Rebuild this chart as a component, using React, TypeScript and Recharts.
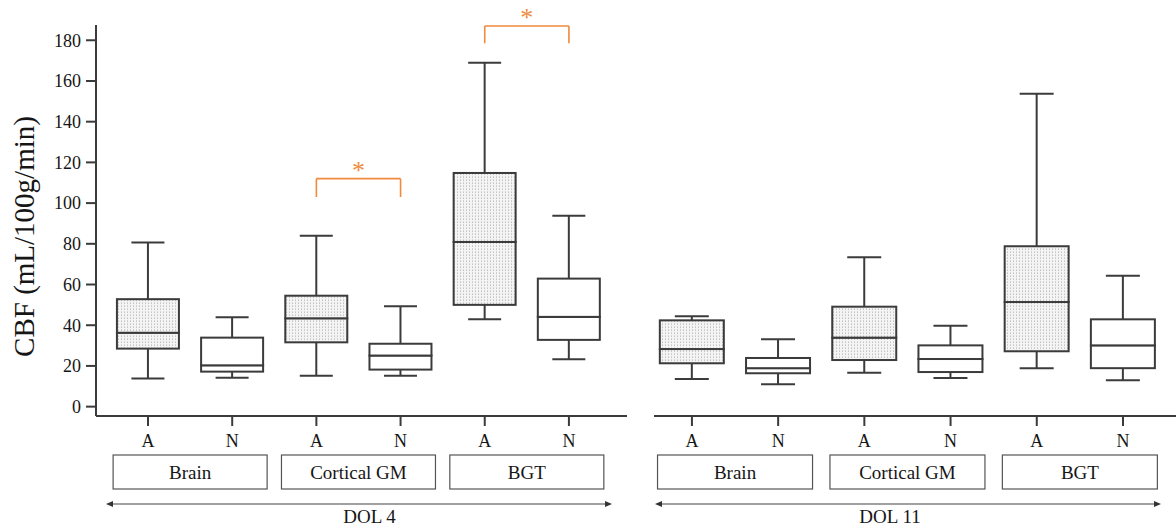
import React from "react";
import { ComposedChart, Bar, Line, XAxis, YAxis, ReferenceLine } from "recharts";

const regions = ["Brain", "Cortical GM", "BGT"];
const cohorts = ["A", "N", "A", "N", "A", "N"];
const positions = [0, 1, 2, 3, 4, 5];
const regionCenters = [0.5, 2.5, 4.5];
const yTicks = [0, 10, 20, 30, 40, 50, 60, 70, 80, 90, 100, 110, 120, 130, 140, 150, 160, 170, 180];

// DOL 4 boxes (min, Q1, median, Q3, max)
const dol4Min = [13.8, 14.2, 15.2, 15.2, 42.9, 23.3];
const dol4Q1 = [28.5, 17.2, 31.6, 18.2, 50.0, 32.8];
const dol4Median = [36.3, 20.3, 43.4, 25.1, 80.9, 44.1];
const dol4Q3 = [52.8, 33.9, 54.5, 30.9, 114.8, 62.9];
const dol4Max = [80.7, 43.9, 84.0, 49.3, 169.0, 93.8];

// DOL 11 boxes
const dol11Min = [13.6, 11.0, 16.6, 14.1, 18.9, 13.0];
const dol11Q1 = [21.3, 16.4, 22.9, 17.0, 27.2, 18.9];
const dol11Median = [28.3, 18.9, 33.9, 23.4, 51.4, 30.1];
const dol11Q3 = [42.4, 23.9, 49.1, 30.1, 78.8, 42.9];
const dol11Max = [44.4, 33.1, 73.4, 39.8, 153.7, 64.3];

// significance brackets (DOL 4)
const sigFrom = [2, 4];
const sigTo = [3, 5];
const sigTop = [112, 187];
const sigLeg = [103, 178.5];

const INK = "#3b3b3b";
const TEXT = "#161616";
const ORANGE = "#f08a3c";
const FONT = '"Liberation Serif", "Times New Roman", serif';

const buildRows = (mn: number[], q1: number[], md: number[], q3: number[], mx: number[]) =>
  positions.map((p, i) => ({
    pos: p,
    cohort: cohorts[i],
    base: mn[i],
    lowW: q1[i] - mn[i],
    lowBox: md[i] - q1[i],
    highBox: q3[i] - md[i],
    highW: mx[i] - q3[i],
  }));

const boxShape = (props: any) => {
  const { x, y, width, height, payload } = props;
  return (
    <rect
      x={x}
      y={y}
      width={width}
      height={height}
      fill={payload.cohort === "A" ? "url(#dots)" : "#fff"}
      stroke={INK}
      strokeWidth={2}
    />
  );
};

const whiskerShape = (cap: number, atTop: boolean) => (props: any) => {
  const { x, y, width, height } = props;
  const cx = x + width / 2;
  const end = atTop ? y : y + height;
  return (
    <g>
      <line x1={cx} x2={cx} y1={y} y2={y + height} stroke={INK} strokeWidth={2} />
      <line x1={cx - cap / 2} x2={cx + cap / 2} y1={end} y2={end} stroke={INK} strokeWidth={2} />
    </g>
  );
};

const YTick = ({ x, y, payload }: any) => {
  const major = payload.value % 20 === 0;
  return (
    <g>
      <line x1={x + (major ? 5 : 9)} x2={x + 15} y1={y} y2={y} stroke={INK} strokeWidth={2} />
      {major && (
        <text x={x} y={y} dy="0.35em" textAnchor="end" fill={TEXT} style={{ fontSize: 18, fontFamily: FONT }}>
          {payload.value}
        </text>
      )}
    </g>
  );
};

const CohortTick = ({ x, y, payload }: any) => (
  <text x={x} y={y} dy="0.71em" textAnchor="middle" fill={TEXT} style={{ fontSize: 18, fontFamily: FONT }}>
    {cohorts[positions.indexOf(payload.value)]}
  </text>
);

const RegionTick = ({ x, y, index, boxW }: any) => (
  <g>
    <rect x={x - boxW / 2} y={y + 9} width={boxW} height={34} fill="#fff" stroke="#555" strokeWidth={1.2} />
    <text x={x} y={y + 26} dy="0.35em" textAnchor="middle" fill={TEXT} style={{ fontSize: 19, fontFamily: FONT }}>
      {regions[index]}
    </text>
  </g>
);

const DolLabel = ({ viewBox, text, startInset, endInset, textShift }: any) => {
  const { x, y, width } = viewBox;
  const x1 = x + startInset;
  const x2 = x + width - endInset;
  const ay = y + 58;
  return (
    <g>
      <line x1={x1 + 5} x2={x2 - 5} y1={ay} y2={ay} stroke="#444" strokeWidth={1.2} />
      <polygon points={`${x1},${ay} ${x1 + 7},${ay - 3} ${x1 + 7},${ay + 3}`} fill="#333" />
      <polygon points={`${x2},${ay} ${x2 - 7},${ay - 3} ${x2 - 7},${ay + 3}`} fill="#333" />
      <text x={x + width / 2 + textShift} y={y + 77} textAnchor="middle" fill={TEXT} style={{ fontSize: 19, fontFamily: FONT }}>
        {text}
      </text>
    </g>
  );
};

const Panel = ({ rows, width, left, marginLeft, marginRight, showY, xDomain, boxW, cap, groupW, dol, startInset, endInset, textShift, brackets }: any) => (
  <div style={{ position: "absolute", left, top: 0 }}>
    <ComposedChart
      width={width}
      height={528}
      data={rows}
      margin={{ top: 25, right: marginRight, bottom: 0, left: marginLeft }}
    >
      <XAxis
        dataKey="pos"
        type="number"
        domain={xDomain}
        ticks={positions}
        allowDataOverflow
        height={30}
        tickSize={10}
        tickMargin={8}
        axisLine={{ stroke: INK, strokeWidth: 2 }}
        tickLine={{ stroke: INK, strokeWidth: 2 }}
        tick={(p: any) => <CohortTick {...p} />}
      />
      <XAxis
        xAxisId="region"
        dataKey="pos"
        type="number"
        domain={xDomain}
        ticks={regionCenters}
        allowDataOverflow
        height={82}
        tickSize={0}
        tickMargin={0}
        axisLine={false}
        tickLine={false}
        tick={(p: any) => <RegionTick {...p} boxW={groupW} />}
        label={(p: any) => (
          <DolLabel viewBox={p.viewBox} text={dol} startInset={startInset} endInset={endInset} textShift={textShift} />
        )}
      />
      <YAxis
        type="number"
        domain={[-4.6, 187.5]}
        ticks={yTicks}
        allowDataOverflow
        hide={!showY}
        width={96}
        tickSize={10}
        tickMargin={5}
        tickLine={false}
        axisLine={{ stroke: INK, strokeWidth: 2 }}
        tick={(p: any) => <YTick {...p} />}
        label={{
          value: "CBF (mL/100g/min)",
          angle: -90,
          position: "center",
          dx: -24,
          dy: 16,
          style: { fill: TEXT, fontSize: 29, fontFamily: FONT },
        }}
      />
      <Bar dataKey="base" stackId="b" barSize={boxW} shape={() => <g />} isAnimationActive={false} />
      <Bar dataKey="lowW" stackId="b" barSize={boxW} shape={whiskerShape(cap, false)} isAnimationActive={false} />
      <Bar dataKey="lowBox" stackId="b" barSize={boxW} shape={boxShape} isAnimationActive={false} />
      <Bar dataKey="highBox" stackId="b" barSize={boxW} shape={boxShape} isAnimationActive={false} />
      <Bar dataKey="highW" stackId="b" barSize={boxW} shape={whiskerShape(cap, true)} isAnimationActive={false} />
      <Line
        xAxisId="region"
        dataKey="base"
        stroke="none"
        dot={false}
        activeDot={false}
        legendType="none"
        isAnimationActive={false}
      />
      {brackets &&
        sigFrom.map((f, i) => (
          <ReferenceLine
            key={`h${i}`}
            segment={[{ x: f, y: sigTop[i] }, { x: sigTo[i], y: sigTop[i] }]}
            stroke={ORANGE}
            strokeWidth={1.6}
            ifOverflow="visible"
            label={{ value: "*", position: "top", offset: 0, fill: ORANGE, fontSize: 26, style: { fontFamily: FONT } }}
          />
        ))}
      {brackets &&
        sigFrom.map((f, i) => (
          <ReferenceLine
            key={`l${i}`}
            segment={[{ x: f, y: sigLeg[i] }, { x: f, y: sigTop[i] }]}
            stroke={ORANGE}
            strokeWidth={1.6}
            ifOverflow="visible"
          />
        ))}
      {brackets &&
        sigTo.map((t, i) => (
          <ReferenceLine
            key={`r${i}`}
            segment={[{ x: t, y: sigLeg[i] }, { x: t, y: sigTop[i] }]}
            stroke={ORANGE}
            strokeWidth={1.6}
            ifOverflow="visible"
          />
        ))}
    </ComposedChart>
  </div>
);

export default function App() {
  const rows4 = buildRows(dol4Min, dol4Q1, dol4Median, dol4Q3, dol4Max);
  const rows11 = buildRows(dol11Min, dol11Q1, dol11Median, dol11Q3, dol11Max);
  return (
    <div style={{ position: "absolute", left: 0, top: 0, width: 1176, height: 528, background: "#fff", overflow: "hidden", fontFamily: FONT }}>
      <svg width={0} height={0} style={{ position: "absolute" }}>
        <defs>
          <pattern id="dots" width={3} height={3} patternUnits="userSpaceOnUse">
            <rect width={3} height={3} fill="#f4f4f4" />
            <rect x={1} y={0} width={1} height={1} fill="#c4c4c4" />
            <rect x={1} y={2} width={1} height={1} fill="#d6d6d6" />
          </pattern>
        </defs>
      </svg>
      <Panel
        rows={rows4}
        width={640}
        left={0}
        marginLeft={0}
        marginRight={13}
        showY
        xDomain={[-0.618, 5.69]}
        boxW={62}
        cap={33}
        groupW={154}
        dol="DOL 4"
        startInset={10}
        endInset={15}
        textShift={8}
        brackets
      />
      <Panel
        rows={rows11}
        width={536}
        left={640}
        marginLeft={14}
        marginRight={0}
        showY={false}
        xDomain={[-0.44, 5.615]}
        boxW={64}
        cap={34}
        groupW={155}
        dol="DOL 11"
        startInset={1}
        endInset={15}
        textShift={-25}
        brackets={false}
      />
    </div>
  );
}
